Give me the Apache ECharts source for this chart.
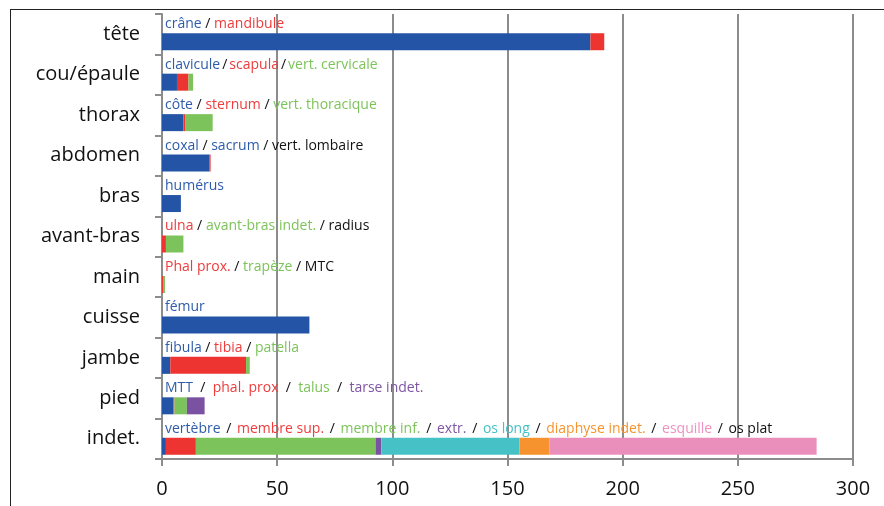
<!DOCTYPE html>
<html>
<head>
<meta charset="utf-8">
<script src="https://cdn.jsdelivr.net/npm/echarts@6/dist/echarts.min.js"></script>
<style>
html,body{margin:0;padding:0;background:#fff;}
#wrap{position:relative;width:884px;height:506px;overflow:hidden;}
#frame{position:absolute;left:10px;top:9px;right:-5px;bottom:-5px;border-top:1.5px solid #222;border-left:1.5px solid #222;pointer-events:none;}
#chart{position:absolute;left:0;top:0;width:884px;height:506px;}
</style>
</head>
<body>
<div id="wrap"><div id="chart"></div><div id="frame"></div></div>
<script>
// ---- data ----
const categories = ["tête", "cou/épaule", "thorax", "abdomen", "bras", "avant-bras", "main", "cuisse", "jambe", "pied", "indet."];
const partNames = [
  ["crâne", "mandibule"],
  ["clavicule", "scapula", "vert. cervicale"],
  ["côte", "sternum", "vert. thoracique"],
  ["coxal", "sacrum", "vert. lombaire"],
  ["humérus"],
  ["ulna", "avant-bras indet.", "radius"],
  ["Phal prox.", "trapèze", "MTC"],
  ["fémur"],
  ["fibula", "tibia", "patella"],
  ["MTT", "phal. prox", "talus", "tarse indet."],
  ["vertèbre", "membre sup.", "membre inf.", "extr.", "os long", "diaphyse indet.", "esquille", "os plat"]
];
const partValues = [
  [186, 6],
  [6.5, 5, 2],
  [9.3, 0.7, 12],
  [20.5, 0.6, 0],
  [8.2],
  [1.7, 7.6, 0],
  [0.7, 0.6, 0],
  [64],
  [3.6, 32.9, 1.6],
  [5, 0.4, 5.4, 7.7],
  [1.7, 13, 78, 2.5, 60, 13, 116, 0]
];
const xTicks = [0, 50, 100, 150, 200, 250, 300];

// ---- styles ----
const barPalette = ["#2354A5", "#EE3430", "#7DC35B", "#7B51A1", "#46C1C5", "#F7932F", "#EA8EBB", "#111111"];
const textPalette = ["#2F5CAA", "#EE3B3B", "#7DC35B", "#7E56A3", "#46C1C5", "#F7942E", "#EE90C0", "#111111"];
const barColorIdx = [[0,1],[0,1,2],[0,1,2],[0,1,7],[0],[1,2,7],[1,2,7],[0],[0,1,2],[0,1,2,3],[0,1,2,3,4,5,6,7]];
const labelColorIdx = [[0,1],[0,1,2],[0,1,2],[0,0,7],[0],[1,2,7],[1,2,7],[0],[0,1,2],[0,1,2,3],[0,1,2,3,4,5,6,7]];
const seps = [" / ", "/", " / ", " / ", " / ", " / ", " / ", " / ", " / ", "  /  ", " / "];
const sepPad = [0, 2, 0, 0, 0, 0, 0, 0, 0, 0, 2];

const FONT = "Open Sans";
const FS = 14;
const rich = {
  s: { color: "#111", fontSize: FS, fontFamily: FONT },
  sp: { color: "#111", fontSize: FS, fontFamily: FONT, padding: [0, 2, 0, 2] }
};
textPalette.forEach((c, i) => { rich["c" + i] = { color: c, fontSize: FS, fontFamily: FONT }; });

function labelText(i) {
  const st = sepPad[i] ? "sp" : "s";
  return partNames[i].map((n, k) => "{c" + labelColorIdx[i][k] + "|" + n + "}").join("{" + st + "|" + seps[i] + "}");
}

const maxParts = Math.max(...partValues.map(a => a.length));
const series = [];
// spacer row carrying the part-name labels (above the bars)
series.push({
  name: "labels",
  type: "bar",
  stack: "lbl",
  barWidth: 15,
  barGap: "0%",
  silent: true,
  itemStyle: { color: "rgba(0,0,0,0)" },
  label: {
    show: true,
    position: "right",
    distance: 3,
    offset: [0, -1.5],
    formatter: p => labelText(p.dataIndex),
    rich: rich
  },
  data: categories.map(() => 0)
});
for (let k = 0; k < maxParts; k++) {
  series.push({
    name: "slot" + k,
    type: "bar",
    stack: "total",
    barWidth: 17,
    barGap: "0%",
    silent: true,
    data: categories.map((c, i) => {
      const v = partValues[i][k];
      if (v === undefined) return { value: 0, itemStyle: { color: "rgba(0,0,0,0)" } };
      return { value: v, itemStyle: { color: barPalette[barColorIdx[i][k]] } };
    })
  });
}

const chart = echarts.init(document.getElementById("chart"));
chart.setOption({
  animation: false,
  backgroundColor: "#fff",
  grid: { left: 162, right: 31, top: 14, bottom: 47, containLabel: false },
  xAxis: {
    type: "value",
    min: xTicks[0],
    max: xTicks[xTicks.length - 1],
    interval: xTicks[1] - xTicks[0],
    axisLine: { show: true, lineStyle: { color: "#8c8c8c", width: 2 } },
    axisTick: { show: true, length: 7, lineStyle: { color: "#8c8c8c", width: 2 } },
    splitLine: { show: true, lineStyle: { color: "#8c8c8c", width: 2 } },
    axisLabel: { fontSize: 20, color: "#111", fontFamily: FONT, margin: 20 }
  },
  yAxis: {
    type: "category",
    inverse: true,
    data: categories,
    axisLine: { show: true, lineStyle: { color: "#8c8c8c", width: 2 } },
    axisTick: { show: true, length: 7, lineStyle: { color: "#8c8c8c", width: 2 } },
    axisLabel: { fontSize: 20, color: "#111", fontFamily: FONT, margin: 22 }
  },
  series: series
});
</script>
</body>
</html>
